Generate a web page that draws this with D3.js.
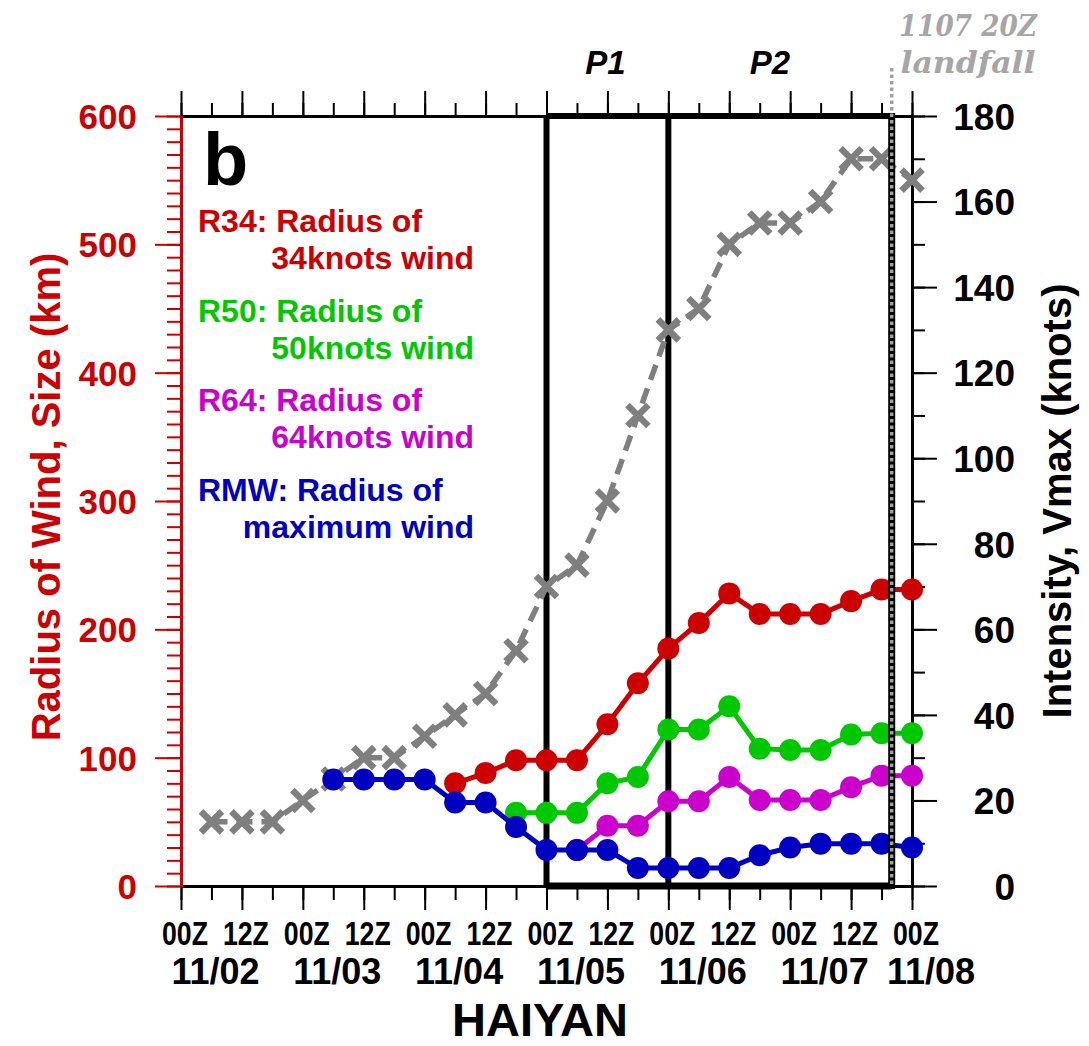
<!DOCTYPE html>
<html>
<head>
<meta charset="utf-8">
<script src="https://cdn.jsdelivr.net/npm/d3@7"></script>
<style>
  html, body { margin: 0; padding: 0; background: #fff; }
  svg { display: block; font-family: "Liberation Sans", Arial, Helvetica, sans-serif; }
</style>
</head>
<body>
<svg id="chart" width="1089" height="1046"></svg>
<script>
// Hours since 11/02 00Z, one entry every 6 h
const timeHours = [0, 6, 12, 18, 24, 30, 36, 42, 48, 54, 60, 66, 72,
                   78, 84, 90, 96, 102, 108, 114, 120, 126, 132, 138, 144];

// Maximum sustained wind (knots)
const vmax = [null, 15, 15, 15, 20, 25, 30, 30, 35, 40, 45, 55, 70,
              75, 90, 110, 130, 135, 150, 155, 155, 160, 170, 170, 165];
// Wind radii (km)
const r34 = [null, null, null, null, null, null, null, null, null, 80, 88, 98, 98,
             98, 126, 158, 185, 205, 228, 212, 212, 212, 222, 231, 231];
const r50 = [null, null, null, null, null, null, null, null, null, null, null, 57, 57,
             57, 80, 85, 122, 122, 140, 107, 106, 106, 118, 119, 119];
const r64 = [null, null, null, null, null, null, null, null, null, null, null, null, null,
             28, 47, 47, 66, 66, 85, 67, 67, 67, 77, 86, 86];
const rmw = [null, null, null, null, null, 83, 83, 83, 83, 65, 65, 46, 28,
             28, 28, 14, 14, 14, 14, 24, 30, 33, 33, 33, 30];

// Axis ticks and labels
const xTickHours = [0, 12, 24, 36, 48, 60, 72, 84, 96, 108, 120, 132, 144];
const xTickLabels = ["00Z", "12Z", "00Z", "12Z", "00Z", "12Z", "00Z", "12Z", "00Z", "12Z", "00Z", "12Z", "00Z"];
const dateHours = [0, 24, 48, 72, 96, 120, 144];
const dateLabels = ["11/02", "11/03", "11/04", "11/05", "11/06", "11/07", "11/08"];
const radiusTicks = [0, 100, 200, 300, 400, 500, 600];
const intensityTicks = [0, 20, 40, 60, 80, 100, 120, 140, 160, 180];

// Analysis periods and landfall time (hours)
const periodEdges = [72, 96, 140];
const periodNames = ["P1", "P2"];
const landfallHour = 140;
const landfallText = ["1107 20Z", "landfall"];

const legendItems = [
  { head: "R34: Radius of", tail: "34knots wind", color: "#cc0000" },
  { head: "R50: Radius of", tail: "50knots wind", color: "#00c800" },
  { head: "R64: Radius of", tail: "64knots wind", color: "#cc00cc" },
  { head: "RMW: Radius of", tail: "maximum wind", color: "#0000c0" }
];

const svg = d3.select("#chart");
const L = 181, R = 912, T = 116, B = 886;

const x = d3.scaleLinear().domain([0, 144]).range([L, R]);
const yL = d3.scaleLinear().domain([0, 600]).range([B, T]);
const yR = d3.scaleLinear().domain([0, 180]).range([B, T]);

// ---- period box (under the data) ----
const box = svg.append("g").attr("stroke", "#000").attr("fill", "none");
box.append("line").attr("x1", x(periodEdges[0])).attr("x2", x(periodEdges[2]))
  .attr("y1", T).attr("y2", T).attr("stroke-width", 6);
box.append("line").attr("x1", x(periodEdges[0])).attr("x2", x(periodEdges[2]))
  .attr("y1", B).attr("y2", B).attr("stroke-width", 7);
periodEdges.slice(0, 2).forEach(h => {
  box.append("line").attr("x1", x(h)).attr("x2", x(h))
    .attr("y1", T).attr("y2", B).attr("stroke-width", 6);
});

// ---- axes ----
function styleAxis(g, color, width) {
  g.selectAll("path").attr("stroke", color).attr("stroke-width", width);
  g.selectAll("line").attr("stroke", color).attr("stroke-width", 2);
}

// bottom
const xMinor = d3.range(0, 145, 6);
const gBm = svg.append("g").attr("transform", `translate(0,${B})`)
  .call(d3.axisBottom(x).tickValues(xMinor).tickSize(14).tickSizeOuter(0).tickFormat(""));
styleAxis(gBm, "#000", 3);
const gB = svg.append("g").attr("transform", `translate(0,${B})`)
  .call(d3.axisBottom(x).tickValues(xTickHours).tickSize(24).tickSizeOuter(0).tickFormat(""));
styleAxis(gB, "#000", 3);

// top
const gTm = svg.append("g").attr("transform", `translate(0,${T})`)
  .call(d3.axisTop(x).tickValues(xMinor).tickSize(13).tickSizeOuter(0).tickFormat(""));
styleAxis(gTm, "#000", 3);
const gT = svg.append("g").attr("transform", `translate(0,${T})`)
  .call(d3.axisTop(x).tickValues(xTickHours).tickSize(25).tickSizeOuter(0).tickFormat(""));
styleAxis(gT, "#000", 3);

// right (intensity)
const gRm = svg.append("g").attr("transform", `translate(${R},0)`)
  .call(d3.axisRight(yR).tickValues(d3.range(0, 181, 10)).tickSize(13).tickSizeOuter(0).tickFormat(""));
styleAxis(gRm, "#000", 3);
const gR = svg.append("g").attr("transform", `translate(${R},0)`)
  .call(d3.axisRight(yR).tickValues(intensityTicks).tickSize(25).tickSizeOuter(0).tickPadding(10));
styleAxis(gR, "#000", 3);
gR.selectAll("text").attr("x", 103).attr("text-anchor", "end").attr("dy", "0.36em")
  .attr("fill", "#000").attr("font-size", 37).attr("font-weight", "bold")
  .attr("font-family", "Liberation Sans, Arial, sans-serif");

// left (radius)
const gLm = svg.append("g").attr("transform", `translate(${L},0)`)
  .call(d3.axisLeft(yL).tickValues(d3.range(0, 601, 10)).tickSize(14).tickSizeOuter(0).tickFormat(""));
styleAxis(gLm, "#cc0000", 3);
const gLa = svg.append("g").attr("transform", `translate(${L},0)`)
  .call(d3.axisLeft(yL).tickValues(radiusTicks).tickSize(26).tickSizeOuter(0).tickPadding(18));
styleAxis(gLa, "#cc0000", 3);
gLa.selectAll("text").attr("fill", "#cc0000").attr("dy", "0.36em")
  .attr("font-size", 35).attr("font-weight", "bold")
  .attr("font-family", "Liberation Sans, Arial, sans-serif");

// bottom tick labels
const lab = svg.append("g").attr("font-weight", "bold").attr("fill", "#000");
lab.selectAll("text.hr").data(xTickHours).join("text").attr("class", "hr")
  .attr("x", (d) => x(d) + 4).attr("y", 945).attr("text-anchor", "middle")
  .attr("font-size", 33).attr("textLength", 46).attr("lengthAdjust", "spacingAndGlyphs")
  .text((d, i) => xTickLabels[i]);
lab.selectAll("text.dt").data(dateHours).join("text").attr("class", "dt")
  .attr("x", (d, i) => i === dateHours.length - 1 ? 931 : x(d + 6) + 4)
  .attr("y", 984).attr("text-anchor", "middle").attr("font-size", 36)
  .text((d, i) => dateLabels[i]);

// axis titles
svg.append("text").attr("transform", "translate(540,1036)").attr("text-anchor", "middle")
  .attr("font-size", 47).attr("font-weight", "bold").text("HAIYAN");
svg.append("text").attr("transform", "translate(60,497) rotate(-90)").attr("text-anchor", "middle")
  .attr("font-size", 40).attr("font-weight", "bold").attr("fill", "#cc0000")
  .text("Radius of Wind, Size (km)");
svg.append("text").attr("transform", "translate(1071,501) rotate(-90)").attr("text-anchor", "middle")
  .attr("font-size", 40).attr("font-weight", "bold").attr("fill", "#000")
  .text("Intensity, Vmax (knots)");

// ---- data ----
const plot = svg.append("g");
const gray = "#7f7f7f";
const vmaxPts = timeHours.map((h, i) => ({ h, v: vmax[i] })).filter(d => d.v != null);
plot.append("path").datum(vmaxPts)
  .attr("fill", "none").attr("stroke", gray).attr("stroke-width", 5.5)
  .attr("stroke-dasharray", "16,9")
  .attr("d", d3.line().x(d => x(d.h)).y(d => yR(d.v)));
const s = 10.5;
plot.selectAll("path.xm").data(vmaxPts).join("path").attr("class", "xm")
  .attr("transform", d => `translate(${x(d.h)},${yR(d.v)})`)
  .attr("d", `M${-s},${-s}L${s},${s}M${-s},${s}L${s},${-s}`)
  .attr("stroke", gray).attr("stroke-width", 6.5).attr("fill", "none");

const radiusSeries = [
  { vals: r34, color: legendItems[0].color },
  { vals: r50, color: legendItems[1].color },
  { vals: r64, color: legendItems[2].color },
  { vals: rmw, color: legendItems[3].color }
];
radiusSeries.forEach(sr => {
  const pts = timeHours.map((h, i) => ({ h, v: sr.vals[i] })).filter(d => d.v != null);
  const g = plot.append("g");
  g.append("path").datum(pts).attr("fill", "none").attr("stroke", sr.color)
    .attr("stroke-width", 5).attr("d", d3.line().x(d => x(d.h)).y(d => yL(d.v)));
  g.selectAll("circle").data(pts).join("circle")
    .attr("cx", d => x(d.h)).attr("cy", d => yL(d.v)).attr("r", 11).attr("fill", sr.color);
});

// ---- landfall marker (drawn over the data) ----
const xl = x(landfallHour);
svg.append("line").attr("x1", xl).attr("x2", xl).attr("y1", T - 3).attr("y2", B + 3)
  .attr("stroke", "#000").attr("stroke-width", 7);
svg.append("line").attr("x1", xl).attr("x2", xl).attr("y1", 68).attr("y2", B)
  .attr("stroke", "#a0a0a0").attr("stroke-width", 3.5).attr("stroke-dasharray", "3.5,3");
svg.append("text").attr("x", 968).attr("y", 36).attr("text-anchor", "middle")
  .attr("font-family", "DejaVu Serif, serif").attr("font-style", "italic").attr("font-weight", "bold")
  .attr("font-size", 30).attr("fill", "#a6a6a6").attr("textLength", 138).attr("lengthAdjust", "spacingAndGlyphs")
  .text(landfallText[0]);
svg.append("text").attr("x", 968).attr("y", 73).attr("text-anchor", "middle")
  .attr("font-family", "DejaVu Serif, serif").attr("font-style", "italic").attr("font-weight", "bold")
  .attr("font-size", 30).attr("fill", "#a6a6a6").attr("textLength", 135).attr("lengthAdjust", "spacingAndGlyphs")
  .text(landfallText[1]);

// period labels
periodNames.forEach((name, i) => {
  const mid = x((periodEdges[i] + periodEdges[i + 1]) / 2) - (i === 1 ? 8 : 0);
  svg.append("text").attr("x", mid - 2).attr("y", 74).attr("text-anchor", "middle")
    .attr("font-size", 33).attr("font-weight", "bold").attr("font-style", "italic").text(name);
});

// panel letter and legend
svg.append("text").attr("x", 203).attr("y", 185).attr("font-size", 74).attr("font-weight", "bold").text("b");
legendItems.forEach((it, i) => {
  const y0 = 232 + i * 89.5;
  svg.append("text").attr("x", 198).attr("y", y0).attr("font-size", 32).attr("font-weight", "bold")
    .attr("fill", it.color).text(it.head);
  svg.append("text").attr("x", 474).attr("y", y0 + 37).attr("text-anchor", "end").attr("font-size", 32)
    .attr("font-weight", "bold").attr("fill", it.color).text(it.tail);
});
</script>
</body>
</html>
